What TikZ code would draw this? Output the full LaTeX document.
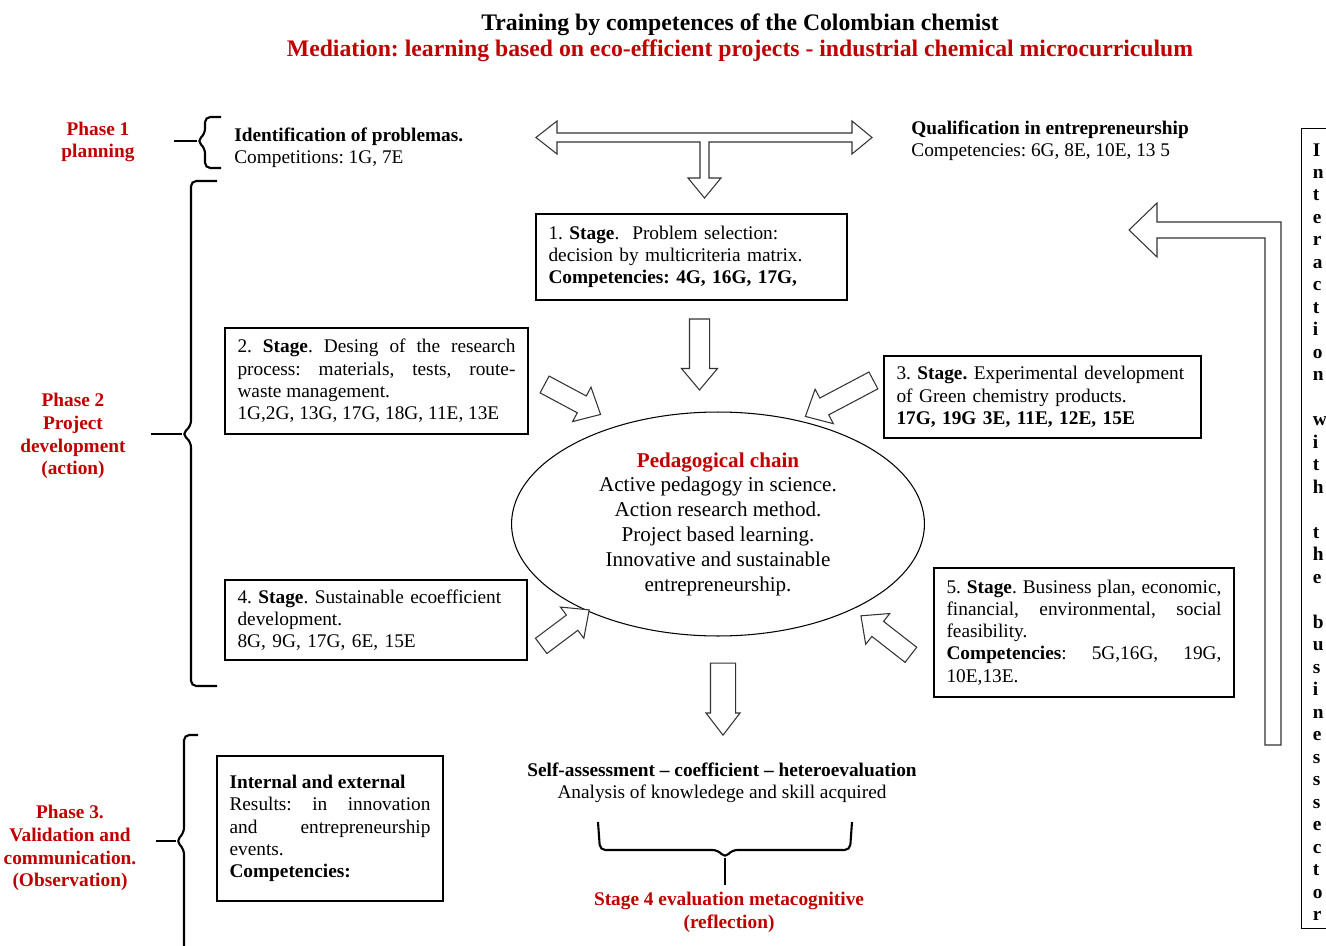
\documentclass[tikz,border=0pt]{standalone}
\usepackage{fontspec}
\setmainfont{Liberation Serif}
\usepackage{tikz}
\usetikzlibrary{calc}
\usetikzlibrary{shapes.geometric}
\usetikzlibrary{shapes.arrows}
\definecolor{phasered}{RGB}{192,0,0}
\frenchspacing
\hyphenpenalty=10000
\exhyphenpenalty=10000
\tikzset{
  stagebox/.style={draw, line width=0.8pt, inner xsep=0.25cm, inner ysep=0pt, align=left, font=\fontsize{11}{12.65}\selectfont},
  phase/.style={text=phasered, font=\fontsize{11}{13}\selectfont\bfseries, align=center},
  txt/.style={font=\fontsize{11}{12.65}\selectfont, inner sep=0pt},
  blockarr/.style={single arrow, draw=black!80, fill=white, line width=0.6pt, inner xsep=0pt, inner ysep=0.18cm, single arrow head extend=0.2cm, single arrow tip angle=85},
  arrowline/.style={draw=black!80, line width=0.6pt, fill=white},
  bracepath/.style={line width=1.2pt, rounded corners=3pt},
}
% block arrow from one coordinate to another
\newcommand{\blockarrow}[4][]{%
  \path let \p1=($(#4)-(#3)$) in
    node[blockarr,#1,minimum height={veclen(\x1,\y1)},rotate={atan2(\y1,\x1)}] (#2) at ($(#3)!0.5!(#4)$) {};}

\begin{document}
\begin{tikzpicture}[x=0.02cm,y=-0.02cm]
    \useasboundingbox (0,0) rectangle (1326,946);

    \node[font=\fontsize{13.5}{14.5}\selectfont\bfseries, align=center] (title) at (740,38) {Training by competences of the Colombian chemist\\\textcolor{phasered}{Mediation: learning based on eco-efficient projects - industrial chemical microcurriculum}};

    % phases
    \node[phase] (p1) at (98,142) {Phase 1\\planning};
    \node[phase] (p2) at (73,436) {Phase 2\\Project\\development\\(action)};
    \node[phase] (p3) at (70,848) {Phase 3.\\Validation and\\communication.\\(Observation)};

    \coordinate (b1tip) at (197,141);
    \coordinate (b2tip) at (182,434);
    \coordinate (b3tip) at (176,841);
    \draw[bracepath] (221,117) -- (205,117) -- (205,134) -- (b1tip) -- (205,148) -- (205,168) -- (221,168);
    \draw[bracepath] (b1tip) -- ++(-23,0);
    \draw[bracepath] (217,181) -- (191,181) -- (191,426) -- (b2tip) -- (191,442) -- (191,686) -- (217,686);
    \draw[bracepath] (b2tip) -- ++(-31,0);
    \draw[bracepath] (198,735) -- (184,735) -- (184,833) -- (b3tip) -- (184,849) -- (184,960);
    \draw[bracepath] (b3tip) -- ++(-20,0);

    \node[txt, anchor=west, align=left] (ident) at (234,148) {\textbf{Identification of problemas.}\\Competitions: 1G, 7E};
    \node[txt, anchor=west, align=left] (qualif) at (911,141) {\textbf{Qualification in entrepreneurship}\\Competencies: 6G, 8E, 10E, 13 5};

    % T arrow at the top
    \draw[arrowline] (536,137.5) -- (557,121) -- (557,133) -- (852,133) -- (852,121) -- (872,137.5) -- (852,154) -- (852,142) -- (709,142) -- (709,178) -- (721,178) -- (704.5,198) -- (688,178) -- (700,178) -- (700,142) -- (557,142) -- (557,154) -- cycle;

    % stages
    \node[stagebox, text width=5.72cm, minimum height=1.72cm] (s1) at (691.5,257) {1. \textbf{Stage}.~ Problem selection:\\decision by multicriteria matrix.\\\textbf{Competencies: 4G, 16G, 17G,}};
    \node[stagebox, align=justify, text width=5.56cm, minimum height=2.12cm] (s2) at (376.5,381) {2. \textbf{Stage}. Desing of the research\linebreak process: materials, tests, route-\linebreak waste management.\\1G,2G, 13G, 17G, 18G, 11E, 13E};
    \node[stagebox, text width=5.84cm, minimum height=1.64cm] (s3) at (1042.5,397) {3. \textbf{Stage.} Experimental development\\of Green chemistry products.\\\textbf{17G, 19G 3E, 11E, 12E, 15E}};
    \node[stagebox, text width=5.54cm, minimum height=1.6cm] (s4) at (376,620) {4. \textbf{Stage}. Sustainable ecoefficient\\development.\\8G, 9G, 17G, 6E, 15E};
    \node[stagebox, align=justify, text width=5.5cm, minimum height=2.58cm] (s5) at (1084,632.5) {5. \textbf{Stage}. Business plan, economic,\linebreak financial, environmental, social\linebreak feasibility.\\\textbf{Competencies}: 5G,16G, 19G,\linebreak 10E,13E.};
    \node[stagebox, align=justify, text width=4.02cm, minimum height=2.9cm] (res) at (330,828.5) {\textbf{Internal and external}\\Results: in innovation\linebreak and entrepreneurship\linebreak events.\\\textbf{Competencies:}};

    \node[draw, ellipse, line width=0.6pt, minimum width=8.26cm, minimum height=4.48cm, inner sep=0pt, align=center, font=\fontsize{12}{14.1}\selectfont] (chain) at (718,524) {\textcolor{phasered}{\textbf{Pedagogical chain}}\\Active pedagogy in science.\\Action research method.\\Project based learning.\\Innovative and sustainable\\entrepreneurship.};

    % arrows into the chain
    \coordinate (a1) at (699.5,313); \coordinate (a1t) at (699.5,384);
    \coordinate (a2) at (540,382);   \coordinate (a2t) at (596,412);
    \coordinate (a3) at (878,378);   \coordinate (a3t) at (810,414);
    \coordinate (a4) at (537,649);   \coordinate (a4t) at (585,613);
    \coordinate (a5) at (915,658);   \coordinate (a5t) at (865,619);
    \coordinate (a6) at (723,655);   \coordinate (a6t) at (723,727);
    \blockarrow[inner ysep=0.19cm, single arrow head extend=0.16cm, single arrow tip angle=80]{arr1}{a1}{a1t}
    \blockarrow{arr2}{a2}{a2t}
    \blockarrow{arr3}{a3}{a3t}
    \blockarrow{arr4}{a4}{a4t}
    \blockarrow{arr5}{a5}{a5t}
    \blockarrow[inner ysep=0.24cm, single arrow head extend=0.09cm, single arrow tip angle=75]{arr6}{a6}{a6t}

    % evaluation
    \node[txt, align=center] (selfeval) at (722,783) {\textbf{Self-assessment -- coefficient -- heteroevaluation}\\Analysis of knowledege and skill acquired};
    \coordinate (evtip) at (725,858);
    \draw[bracepath] (598,822) -- (600,850) -- (718,850) -- (evtip) -- (732,850) -- (850,850) -- (852,822);
    \draw[bracepath] (evtip) -- (725,885);
    \node[phase] (stage4) at (729,912) {Stage 4 evaluation metacognitive\\(reflection)};

    % business sector
    \node[draw, line width=0.8pt, anchor=north west, minimum width=1cm, minimum height=16cm] (bizbox) at (1301,128) {};
    \node[anchor=north west, inner sep=0pt, text width=0.4cm, align=left, font=\fontsize{11}{12.8}\selectfont\bfseries] (biz) at (1312.5,143) {I\\n\\t\\e\\r\\a\\c\\t\\i\\o\\n\\\mbox{}\\w\\i\\t\\h\\\mbox{}\\t\\h\\e\\\mbox{}\\b\\u\\s\\i\\n\\e\\s\\s\\s\\e\\c\\t\\o\\r};
    \draw[arrowline] (1129,230) -- (1157,203) -- (1157,222) -- (1281,222) -- (1281,745) -- (1265,745) -- (1265,238) -- (1157,238) -- (1157,257) -- cycle;
\end{tikzpicture}
\end{document}
